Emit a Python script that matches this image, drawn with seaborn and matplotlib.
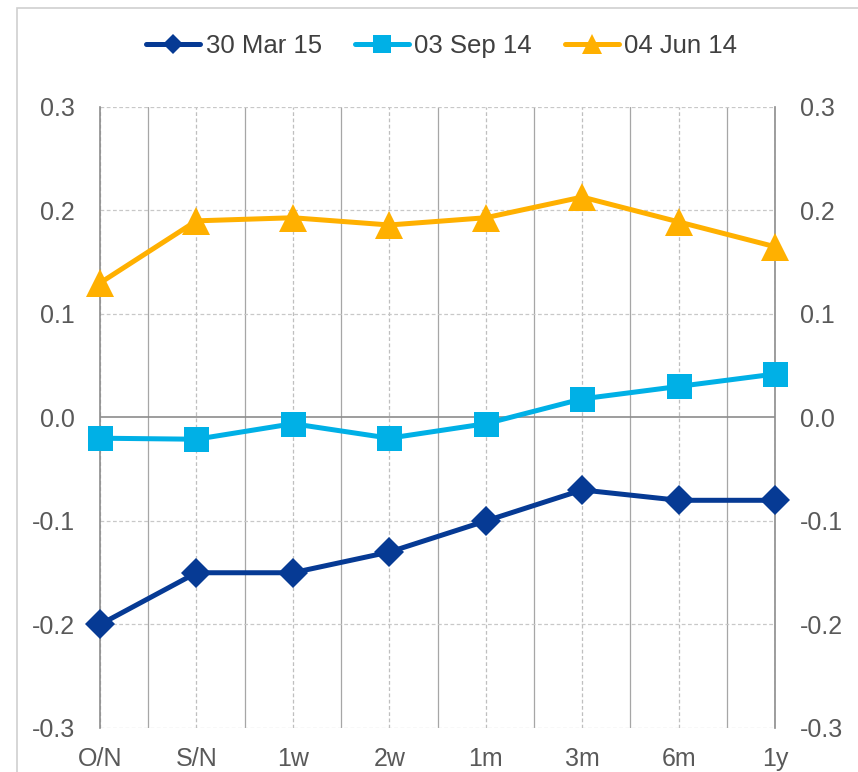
import matplotlib
matplotlib.use("Agg")
import matplotlib.pyplot as plt
import seaborn as sns
import pandas as pd
from matplotlib.patches import Rectangle
from matplotlib.lines import Line2D

categories = ["O/N", "S/N", "1w", "2w", "1m", "3m", "6m", "1y"]
mar15 = [-0.20, -0.15, -0.15, -0.13, -0.10, -0.07, -0.08, -0.08]
sep14 = [-0.020, -0.021, -0.006, -0.020, -0.006, 0.018, 0.030, 0.042]
jun14 = [0.130, 0.190, 0.193, 0.186, 0.193, 0.213, 0.189, 0.165]
series_names = ["30 Mar 15", "03 Sep 14", "04 Jun 14"]
y_ticks = [-0.3, -0.2, -0.1, 0.0, 0.1, 0.2, 0.3]

colors = {"30 Mar 15": "#063A94", "03 Sep 14": "#00B0E6", "04 Jun 14": "#FFB000"}
markers = {"30 Mar 15": "D", "03 Sep 14": "s", "04 Jun 14": "^"}
msizes = {"30 Mar 15": 15.5, "03 Sep 14": 18, "04 Jun 14": 19.5}
leg_msizes = {"30 Mar 15": 10, "03 Sep 14": 13, "04 Jun 14": 14}

rows = []
for name, vals in zip(series_names, [mar15, sep14, jun14]):
    for i, (c, v) in enumerate(zip(categories, vals)):
        rows.append({"cat": c, "pos": i, "value": v, "series": name})
df = pd.DataFrame(rows)

sns.set_style("white")
plt.rcParams["font.family"] = ["Liberation Sans", "DejaVu Sans"]

fig = plt.figure(figsize=(8.58, 7.72), dpi=100)
ax = fig.add_axes([0.1166, 0.0570, 0.9033 - 0.1166, 0.8614 - 0.0570])

# grid: category lines dashed, midpoints solid
for i in range(len(categories)):
    ax.axvline(i, color="#BFBFBF", lw=0.9, ls=(0, (3, 2)), zorder=0)
for i in range(len(categories) - 1):
    ax.axvline(i + 0.5, color="#A6A6A6", lw=0.9, ls="-", zorder=0)
for t in y_ticks:
    if t == 0:
        ax.axhline(t, color="#8C8C8C", lw=1.2, zorder=0.5)
    else:
        ax.axhline(t, color="#C8C8C8", lw=0.9, ls=(0, (3, 2)), zorder=0)

for name in series_names:
    sub = df[df["series"] == name]
    sns.lineplot(data=sub, x="pos", y="value", ax=ax, color=colors[name],
                 marker=markers[name], markersize=msizes[name], lw=3.6,
                 markeredgewidth=0, label=name, zorder=3, legend=False,
                 clip_on=False)

ax.set_xlim(0, len(categories) - 1)
ax.set_ylim(-0.3, 0.3)
ax.set_xticks(range(len(categories)))
ax.set_xticklabels(categories)
ax.set_yticks(y_ticks)
ax.set_yticklabels([f"{t:.1f}" for t in y_ticks])
ax.set_xlabel("")
ax.set_ylabel("")
ax.tick_params(axis="both", length=0, labelsize=18, labelcolor="#595959")
ax.tick_params(axis="y", pad=18, labelright=True)
ax.tick_params(axis="x", pad=14)

for s in ["left", "right"]:
    ax.spines[s].set_visible(True)
    ax.spines[s].set_color("#8C8C8C")
    ax.spines[s].set_linewidth(1.2)
for s in ["top", "bottom"]:
    ax.spines[s].set_visible(False)

leg_handles = [Line2D([0], [0], color=colors[n], marker=markers[n], lw=3.6,
                      markersize=leg_msizes[n], markeredgewidth=0) for n in series_names]
fig.legend(leg_handles, series_names, loc="center", bbox_to_anchor=(0.515, 0.94),
           ncol=3, frameon=False, fontsize=18.5, handlelength=2.1, handletextpad=0.2,
           columnspacing=1.3, labelcolor="#404040")

fig.patches.append(Rectangle((17 / 858, -0.1), 1.2, 1.1 - 8 / 772, transform=fig.transFigure,
                             fill=False, edgecolor="#D0D0D0", lw=1.2, zorder=-1))

fig.savefig("out.png", dpi=100)
